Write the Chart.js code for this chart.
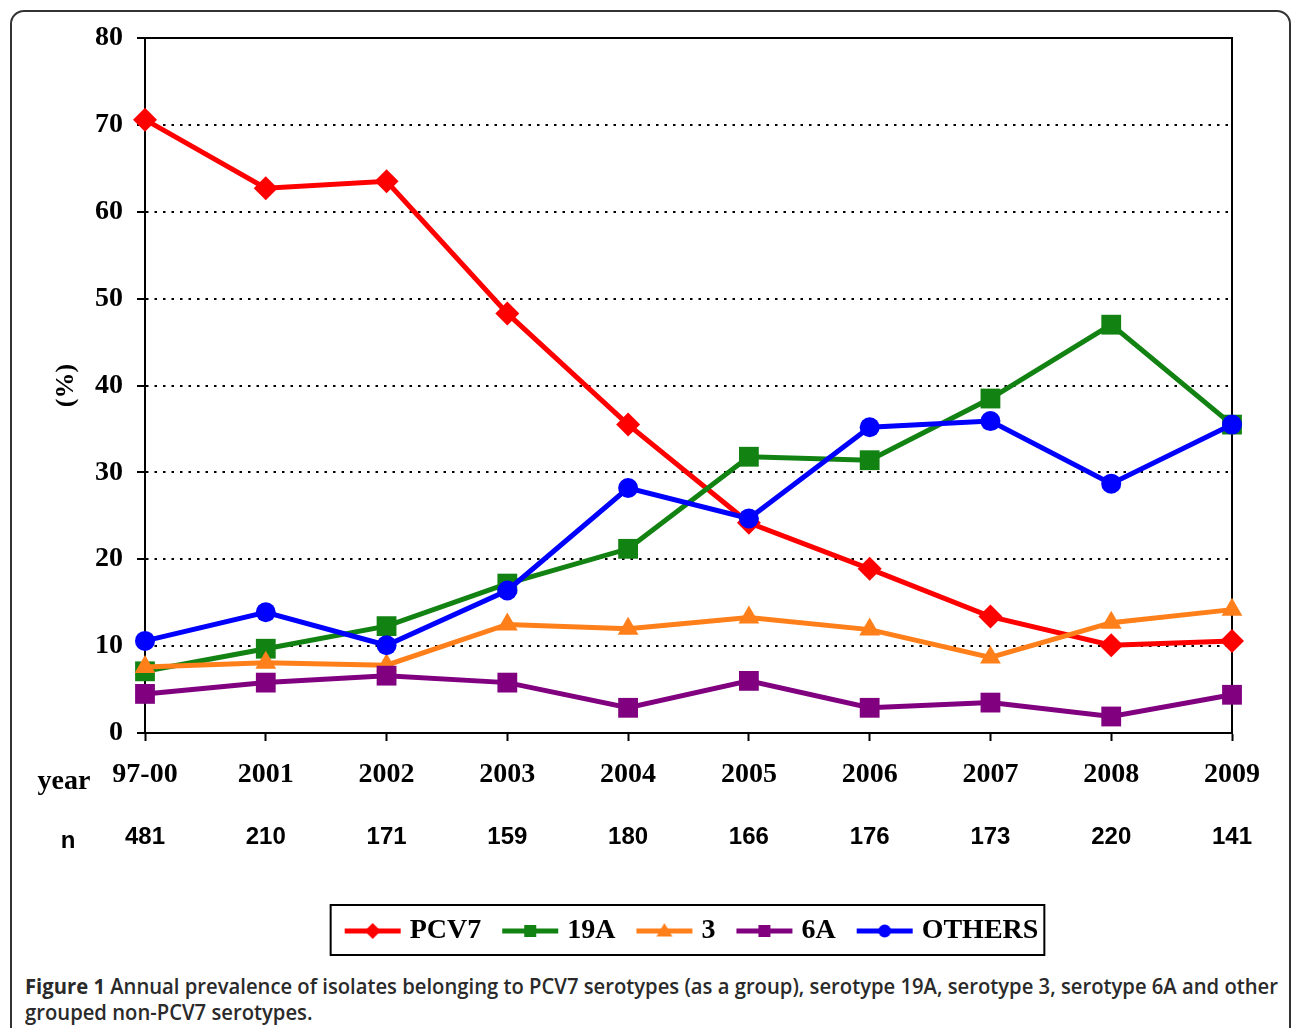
<!DOCTYPE html>
<html>
<head>
<meta charset="utf-8">
<script src="https://cdn.jsdelivr.net/npm/chart.js@4.4.0/dist/chart.umd.min.js"></script>
<style>
    body { margin: 0; background: #fff; width: 1292px; height: 1028px; overflow: hidden; position: relative; }
    #moldura { position: absolute; left: 10px; top: 10px; width: 1281px; height: 1060px; border: 2px solid #333; border-radius: 14px; box-sizing: border-box; }
    #grafico { position: absolute; left: 0; top: 0; }
    #legenda-fig { position: absolute; left: 25px; top: 973px; font-family: 'Open Sans', 'Noto Sans', sans-serif; font-size: 21px; font-weight: 600; line-height: 26px; color: #2a2a2a; }
    #legenda-fig .linha { display: inline-block; white-space: nowrap; transform-origin: 0 0; }
    #legenda-fig b { font-weight: 700; }
</style>
</head>
<body>
<div id="moldura"></div>
<canvas id="grafico" width="1292" height="965"></canvas>
<div id="legenda-fig">
    <span class="linha" id="l1"><b>Figure 1</b> Annual prevalence of isolates belonging to PCV7 serotypes (as a group), serotype 19A, serotype 3, serotype 6A and other</span><br>
    <span class="linha" id="l2">grouped non-PCV7 serotypes.</span>
</div>
<script>
// Dados
var anos = ['97-00', '2001', '2002', '2003', '2004', '2005', '2006', '2007', '2008', '2009'];
var nIsolados = ['481', '210', '171', '159', '180', '166', '176', '173', '220', '141'];

var pcv7 = [70.6, 62.7, 63.5, 48.3, 35.5, 24.2, 18.9, 13.4, 10.1, 10.6];
var sero19A = [7.1, 9.7, 12.3, 17.2, 21.2, 31.8, 31.4, 38.5, 47.0, 35.5];
var sero3 = [7.6, 8.1, 7.8, 12.5, 12.0, 13.3, 11.9, 8.7, 12.7, 14.2];
var sero6A = [4.5, 5.8, 6.6, 5.8, 2.9, 6.0, 2.9, 3.5, 1.9, 4.4];
var outros = [10.6, 13.9, 10.1, 16.4, 28.2, 24.7, 35.2, 35.9, 28.7, 35.5];

var yMin = 0;
var yMax = 80;
var yPasso = 10;

var fonteSerif = "'Liberation Serif', 'DejaVu Serif', serif";
var fonteSans = "'Liberation Sans', Arial, sans-serif";

// Legenda da figura: aperta o texto na largura da primeira linha
(function () {
    var l1 = document.getElementById('l1');
    var l2 = document.getElementById('l2');
    var k = 1253 / l1.getBoundingClientRect().width;
    l1.style.transform = 'scaleX(' + k + ')';
    l2.style.transform = 'scaleX(' + k + ')';
})();

// Desenha o símbolo da legenda (linha + marcador)
function simboloLegenda(cor, estilo, r) {
    var c = document.createElement('canvas');
    c.width = 58;
    c.height = 28;
    var ctx = c.getContext('2d');
    ctx.strokeStyle = cor;
    ctx.lineWidth = 5;
    ctx.beginPath();
    ctx.moveTo(1, 14);
    ctx.lineTo(57, 14);
    ctx.stroke();
    ctx.fillStyle = cor;
    ctx.beginPath();
    if (estilo === 'rectRot') {
        ctx.moveTo(29, 14 - r); ctx.lineTo(29 + r, 14); ctx.lineTo(29, 14 + r); ctx.lineTo(29 - r, 14);
    } else if (estilo === 'rect') {
        ctx.rect(29 - r * 0.75, 14 - r * 0.75, r * 1.5, r * 1.5);
    } else if (estilo === 'triangle') {
        ctx.moveTo(29, 14 - r); ctx.lineTo(29 + r, 14 + r * 0.7); ctx.lineTo(29 - r, 14 + r * 0.7);
    } else {
        ctx.arc(29, 14, r * 0.8, 0, Math.PI * 2);
    }
    ctx.closePath();
    ctx.fill();
    return c;
}

function serie(label, dados, cor, estilo, raio, ordem) {
    return {
        label: label,
        data: dados,
        borderColor: cor,
        backgroundColor: cor,
        pointBackgroundColor: cor,
        pointBorderColor: cor,
        pointBorderWidth: 0,
        pointStyle: estilo,
        pointRadius: raio,
        borderWidth: 5,
        fill: false,
        order: ordem, // as últimas séries ficam por cima
        simbolo: simboloLegenda(cor, estilo, 8)
    };
}

// Moldura do gráfico (linha de cima e da direita)
var moldura = {
    id: 'moldura',
    beforeDatasetsDraw: function (chart) {
        var a = chart.chartArea;
        var ctx = chart.ctx;
        ctx.save();
        ctx.strokeStyle = '#000';
        ctx.lineWidth = 2;
        ctx.strokeRect(a.left, a.top, a.right - a.left, a.bottom - a.top);
        ctx.restore();
    }
};

// Rótulos "year" e "n" à esquerda das linhas do eixo X
var rotulosLinhas = {
    id: 'rotulosLinhas',
    afterDraw: function (chart) {
        var ctx = chart.ctx;
        var base = chart.chartArea.bottom;
        ctx.save();
        ctx.fillStyle = '#000';
        ctx.textAlign = 'center';
        ctx.textBaseline = 'alphabetic';
        ctx.font = 'bold 28px ' + fonteSerif;
        ctx.fillText('year', 64, base + 56);
        ctx.font = 'bold 24px ' + fonteSans;
        ctx.fillText('n', 68, base + 115);
        ctx.restore();
    }
};

// Caixa em volta da legenda
var bordaLegenda = {
    id: 'bordaLegenda',
    afterLayout: function (chart) {
        chart.legend.left += 68;
        chart.legend.right += 68;
    },
    afterDraw: function (chart) {
        var caixas = chart.legend.legendHitBoxes;
        if (!caixas || !caixas.length) return;
        var esq = caixas[0].left - 19;
        var dir = caixas[caixas.length - 1].left + caixas[caixas.length - 1].width + 6;
        var topo = caixas[0].top - 12;
        var baixo = caixas[0].top + caixas[0].height + 10;
        var ctx = chart.ctx;
        ctx.save();
        ctx.strokeStyle = '#000';
        ctx.lineWidth = 2;
        ctx.strokeRect(esq, topo, dir - esq, baixo - topo);
        ctx.restore();
    }
};

new Chart(document.getElementById('grafico').getContext('2d'), {
    type: 'line',
    data: {
        labels: anos,
        datasets: [
            serie('PCV7', pcv7, '#FF0000', 'rectRot', 12, 5),
            serie('19A', sero19A, '#128212', 'rect', 14, 4),
            serie('3', sero3, '#FF7F1A', 'triangle', 12, 3),
            serie('6A', sero6A, '#800080', 'rect', 14, 2),
            serie('OTHERS', outros, '#0000FF', 'circle', 10, 1)
        ]
    },
    options: {
        responsive: false,
        animation: false,
        layout: {
            padding: { left: 20, right: 60, top: 38, bottom: 10 }
        },
        plugins: {
            tooltip: { enabled: false },
            legend: {
                position: 'bottom',
                labels: {
                    usePointStyle: true,
                    pointStyleWidth: 46,
                    padding: 26,
                    color: '#000',
                    font: { family: fonteSerif, size: 28, weight: 'bold' },
                    generateLabels: function (chart) {
                        return chart.data.datasets.map(function (ds, i) {
                            return {
                                text: ds.label,
                                pointStyle: ds.simbolo,
                                fillStyle: ds.borderColor,
                                strokeStyle: ds.borderColor,
                                lineWidth: 0,
                                fontColor: '#000',
                                hidden: false,
                                datasetIndex: i
                            };
                        });
                    }
                }
            }
        },
        scales: {
            x: {
                weight: 0,
                offset: false,
                grid: { drawOnChartArea: false, tickLength: 8, tickColor: '#000', tickWidth: 2 },
                border: { color: '#000', width: 2 },
                ticks: {
                    color: '#000',
                    padding: 17,
                    maxRotation: 0,
                    autoSkip: false,
                    font: { family: fonteSerif, size: 28, weight: 'bold' }
                },
                afterFit: function (s) { s.height = 62; }
            },
            xN: {
                type: 'category',
                labels: nIsolados,
                position: 'bottom',
                weight: 1,
                offset: false,
                grid: { display: false },
                border: { display: false },
                ticks: {
                    color: '#000',
                    padding: 20,
                    maxRotation: 0,
                    autoSkip: false,
                    font: { family: fonteSans, size: 24, weight: 'bold' }
                },
                afterFit: function (s) { s.height = 96; }
            },
            y: {
                min: yMin,
                max: yMax,
                ticks: {
                    stepSize: yPasso,
                    color: '#000',
                    padding: 14,
                    font: { family: fonteSerif, size: 28, weight: 'bold' }
                },
                grid: {
                    color: function (ctx) {
                        var v = ctx.tick ? ctx.tick.value : null;
                        return (v === yMin || v === yMax) ? 'rgba(0,0,0,0)' : '#000';
                    },
                    lineWidth: 2,
                    tickLength: 8,
                    tickColor: '#000',
                    tickWidth: 2
                },
                border: { color: '#000', width: 2, dash: [2.5, 6] },
                title: {
                    display: true,
                    text: '(%)',
                    color: '#000',
                    padding: { top: 31, bottom: 0 },
                    font: { family: fonteSerif, size: 26, weight: 'bold' }
                },
                afterFit: function (s) { s.width = 125; }
            }
        }
    },
    plugins: [moldura, rotulosLinhas, bordaLegenda]
});
</script>
</body>
</html>
